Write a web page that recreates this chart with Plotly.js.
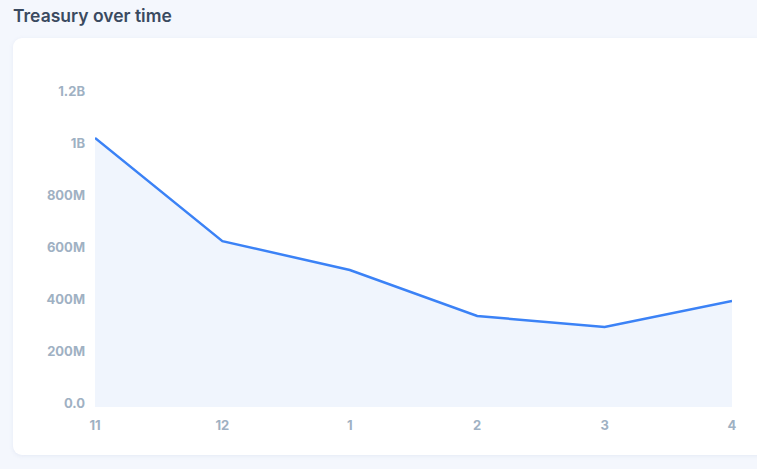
<!DOCTYPE html>
<html>
<head>
<meta charset="utf-8">
<script src="https://cdn.plot.ly/plotly-3.0.1.min.js"></script>
<style>
html,body{margin:0;padding:0;width:757px;height:469px;background:#f4f7fd;overflow:hidden;font-family:Inter,sans-serif;}
#card{position:absolute;left:13px;top:38px;width:770px;height:417px;background:#fff;border-radius:9px;box-shadow:0 1px 4px rgba(120,140,190,0.12);}
#chart{position:absolute;left:0;top:0;width:757px;height:469px;}
</style>
</head>
<body>
<div id="card"></div>
<div id="chart"></div>
<script>
const months = ["11", "12", "1", "2", "3", "4"];
const treasury = [1.035e9, 0.638e9, 0.527e9, 0.350e9, 0.308e9, 0.408e9];
const yTickVals = [0, 2e8, 4e8, 6e8, 8e8, 1e9, 1.2e9];
const yTickText = ["0.0", "200M", "400M", "600M", "800M", "1B", "1.2B"];

const tickFont = {family: "Inter, sans-serif", size: 13, color: "#9fb1c3", weight: 700};

Plotly.newPlot("chart", [{
  x: months,
  y: treasury,
  type: "scatter",
  mode: "lines",
  fill: "tozeroy",
  fillcolor: "rgba(230,239,252,0.6)",
  line: {color: "#3b82f6", width: 2.5},
  hoverinfo: "skip"
}], {
  width: 757,
  height: 469,
  margin: {l: 95, r: 25, t: 95, b: 62},
  paper_bgcolor: "rgba(0,0,0,0)",
  plot_bgcolor: "rgba(0,0,0,0)",
  showlegend: false,
  title: {
    text: "Treasury over time",
    x: 13/757, xanchor: "left", xref: "container",
    y: 1 - 16/469, yanchor: "middle", yref: "container",
    font: {family: "Inter, sans-serif", size: 17.5, color: "#3a4a60", weight: 600}
  },
  xaxis: {
    type: "category",
    range: [0, 5],
    showgrid: false, zeroline: false, showline: false,
    ticks: "", ticklabelstandoff: 9,
    tickfont: tickFont, fixedrange: true
  },
  yaxis: {
    range: [0, 1.2e9],
    tickvals: yTickVals, ticktext: yTickText,
    showgrid: false, zeroline: false, showline: false,
    ticks: "", ticklabelstandoff: 9, ticklabelshift: -4,
    tickfont: tickFont, fixedrange: true
  }
}, {displayModeBar: false, staticPlot: true});
</script>
</body>
</html>
